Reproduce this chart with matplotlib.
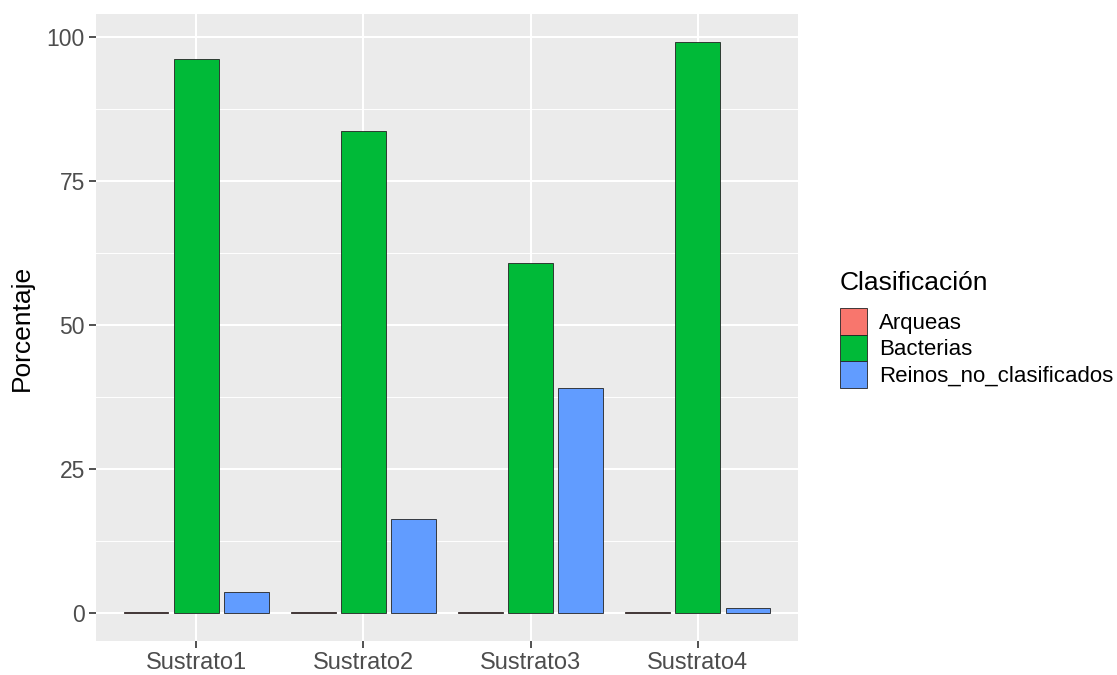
import matplotlib
matplotlib.use("Agg")
import matplotlib.pyplot as plt
import numpy as np
from matplotlib.patches import Patch

plt.rcParams['font.family'] = ['Liberation Sans', 'DejaVu Sans']

# Datos
sustratos = ['Sustrato1', 'Sustrato2', 'Sustrato3', 'Sustrato4']
clases = ['Arqueas', 'Bacterias', 'Reinos_no_clasificados']
arqueas = [0.05, 0.05, 0.15, 0.03]
bacterias = [96.3, 83.8, 60.8, 99.1]
reinos = [3.6, 16.2, 39.0, 0.8]
colores = ['#F8766D', '#00BA38', '#619CFF']

series = [arqueas, bacterias, reinos]

fig = plt.figure(figsize=(11.17, 6.75), dpi=100)
ax = fig.add_axes([96/1117, 1 - 641/675, (798-96)/1117, (641-14)/675])
ax.set_facecolor('#EBEBEB')

x = np.arange(1, len(sustratos) + 1)
dodge = 0.9 / 3
ancho = 0.8 / 3
for i, (vals, col) in enumerate(zip(series, colores)):
    ax.bar(x + (i - 1) * dodge, vals, width=ancho, color=col,
           edgecolor='#222222', linewidth=0.6, zorder=3)

ax.set_xlim(0.4, 4.6)
ymax = max(bacterias)
ax.set_ylim(-0.05 * ymax, ymax * 1.05)
ax.set_xticks(x)
ax.set_xticklabels(sustratos)
ax.set_yticks([0, 25, 50, 75, 100])
ax.set_yticks([12.5, 37.5, 62.5, 87.5], minor=True)
ax.grid(True, which='major', color='white', linewidth=1.5, zorder=0)
ax.grid(True, which='minor', axis='y', color='white', linewidth=0.7, zorder=0)
ax.set_axisbelow(True)
for s in ax.spines.values():
    s.set_visible(False)
ax.tick_params(axis='both', which='major', length=5, width=1.2, color='#333333',
               labelcolor='#4D4D4D', pad=3)
ax.tick_params(axis='x', labelsize=17)
ax.tick_params(axis='y', labelsize=16.5)
ax.tick_params(axis='both', which='minor', length=0)
ax.set_ylabel('Porcentaje', fontsize=19, labelpad=9)

# Leyenda (titulo aparte para controlar la separacion)
fig.text(840/1117, 1 - 283/675, 'Clasificación', fontsize=19,
         ha='left', va='center')
handles = [Patch(facecolor=c, edgecolor='#222222', linewidth=0.6) for c in colores]
leg = fig.legend(handles, clases, loc='upper left',
                 bbox_to_anchor=(840/1117, 1 - 308/675),
                 frameon=False, fontsize=16,
                 handlelength=1.2, handleheight=1.46,
                 labelspacing=0.0, handletextpad=0.55, borderpad=0,
                 borderaxespad=0)

fig.savefig('out.png', dpi=100, facecolor='white')
